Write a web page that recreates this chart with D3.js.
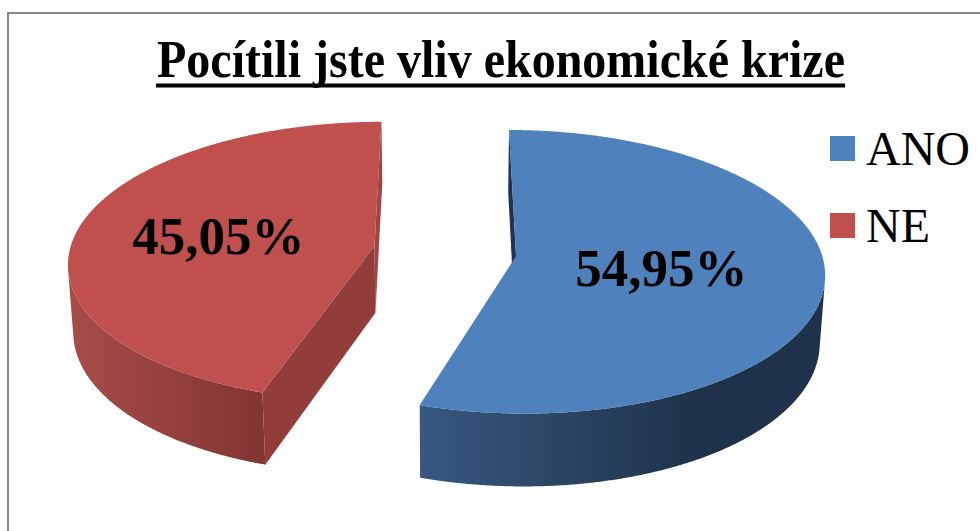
<!DOCTYPE html>
<meta charset="utf-8">
<script src="https://cdn.jsdelivr.net/npm/d3@7/dist/d3.min.js"></script>
<style>
  body { margin: 0; background: #fff; }
  svg { display: block; }
</style>
<body>
<div id="chart"></div>
<script>
  var title = "Pocítili jste vliv ekonomické krize";
  var categories = ["ANO", "NE"];
  var values = [54.95, 45.05];
  var valueLabels = ["54,95%", "45,05%"];

  var width = 980, height = 531;

  var svg = d3.select("#chart").append("svg")
      .attr("width", width)
      .attr("height", height);

  // colours, Excel 2007 style
  var color = d3.scaleOrdinal().domain(categories).range(["#4F81BD", "#C0504D"]);
  var wallLight = d3.scaleOrdinal().domain(categories).range(["#37587F", "#A84C49"]);
  var wallDark = d3.scaleOrdinal().domain(categories).range(["#1F324B", "#823533"]);
  var wallStop = d3.scaleOrdinal().domain(categories).range([0.68, 1]);
  var cutStart = d3.scaleOrdinal().domain(categories).range(["#1F3452", "#933D3B"]);
  var cutEnd = d3.scaleOrdinal().domain(categories).range(["#1F3452", "#A04542"]);

  // simple perspective camera, pie radius = 1
  var phi = 27.1 * Math.PI / 180,
      D = 8.07, f = 2461,
      cx = 445, cy = 251,
      thick = 0.25, explode = 0.235;
  var cam = [0, D * Math.sin(phi), -D * Math.cos(phi)];

  function project(p) {
    var depth = -p[1] * Math.sin(phi) + p[2] * Math.cos(phi) + D;
    var px = p[0], py = p[1] * Math.cos(phi) + p[2] * Math.sin(phi);
    return [cx + f * px / depth, cy - f * py / depth];
  }
  function facing(n, p) {
    return n[0] * (cam[0] - p[0]) + n[1] * (cam[1] - p[1]) + n[2] * (cam[2] - p[2]) > 0;
  }

  var line = d3.line();

  var data = categories.map(function(c, i) {
    return {name: c, value: values[i], label: valueLabels[i]};
  });
  var arcs = d3.pie().sort(null).value(function(d) { return d.value; })(data);

  arcs.forEach(function(a) {
    var mid = (a.startAngle + a.endAngle) / 2;
    a.off = [explode * Math.sin(mid), 0, explode * Math.cos(mid)];
  });
  // far slices first
  arcs.sort(function(a, b) { return b.off[2] - a.off[2]; });

  var defs = svg.append("defs");

  // frame
  svg.append("rect")
      .attr("x", 8).attr("y", 13)
      .attr("width", 1000).attr("height", 600)
      .attr("fill", "none")
      .attr("stroke", "#898989")
      .attr("stroke-width", 2);

  arcs.forEach(function(a, k) {
    var o = a.off, name = a.data.name;
    function rim(t, y) { return [o[0] + Math.sin(t), y, o[2] + Math.cos(t)]; }
    var apexTop = [o[0], 0, o[2]], apexBot = [o[0], -thick, o[2]];

    var g = svg.append("g");
    var n = Math.ceil((a.endAngle - a.startAngle) / 0.005);
    var ts = d3.range(n + 1).map(function(i) {
      return a.startAngle + (a.endAngle - a.startAngle) * i / n;
    });

    // outer wall, visible runs
    var runs = [], cur = null;
    ts.forEach(function(t) {
      var vis = facing([Math.sin(t), 0, Math.cos(t)], rim(t, 0));
      if (vis) { if (!cur) { cur = []; runs.push(cur); } cur.push(t); }
      else cur = null;
    });
    runs.forEach(function(run, r) {
      var pts = run.map(function(t) { return project(rim(t, 0)); })
          .concat(run.slice().reverse().map(function(t) { return project(rim(t, -thick)); }));
      var xs = d3.extent(pts, function(p) { return p[0]; });
      var id = "wall" + k + "_" + r;
      var grad = defs.append("linearGradient").attr("id", id)
          .attr("gradientUnits", "userSpaceOnUse")
          .attr("x1", xs[0]).attr("x2", xs[1]).attr("y1", 0).attr("y2", 0);
      grad.append("stop").attr("offset", 0).attr("stop-color", wallLight(name));
      grad.append("stop").attr("offset", wallStop(name)).attr("stop-color", wallDark(name));
      grad.append("stop").attr("offset", 1).attr("stop-color", wallDark(name));
      g.append("path")
          .attr("d", line(pts) + "Z")
          .attr("fill", "url(#" + id + ")");
    });

    // cut faces
    var faces = [
      {t: a.startAngle, n: [-Math.cos(a.startAngle), 0, Math.sin(a.startAngle)], fill: cutStart(name)},
      {t: a.endAngle, n: [Math.cos(a.endAngle), 0, -Math.sin(a.endAngle)], fill: cutEnd(name)}
    ];
    faces.forEach(function(fc) {
      if (!facing(fc.n, apexTop)) return;
      var pts = [apexTop, rim(fc.t, 0), rim(fc.t, -thick), apexBot].map(project);
      g.append("path")
          .attr("d", line(pts) + "Z")
          .attr("fill", fc.fill);
    });

    // top face
    var top = [project(apexTop)].concat(ts.map(function(t) { return project(rim(t, 0)); }));
    g.append("path")
        .attr("d", line(top) + "Z")
        .attr("fill", color(name));

    // value label
    var lp = project([o[0] + 0.5 * Math.sin((a.startAngle + a.endAngle) / 2), 0,
                      o[2] + 0.5 * Math.cos((a.startAngle + a.endAngle) / 2)]);
    g.append("text")
        .attr("x", lp[0] - 8)
        .attr("y", lp[1])
        .attr("dy", "0.35em")
        .attr("text-anchor", "middle")
        .style("font-family", "'Liberation Serif', 'Times New Roman', serif")
        .style("font-weight", "bold")
        .style("font-size", "53px")
        .text(a.data.label);
  });

  // title
  svg.append("text")
      .attr("x", 501)
      .attr("y", 77)
      .attr("text-anchor", "middle")
      .attr("textLength", 688)
      .attr("lengthAdjust", "spacingAndGlyphs")
      .style("font-family", "'Liberation Serif', 'Times New Roman', serif")
      .style("font-weight", "bold")
      .style("font-size", "52px")
      .text(title);
  svg.append("rect")
      .attr("x", 156).attr("y", 83.5)
      .attr("width", 689).attr("height", 4)
      .attr("fill", "#000");

  // legend
  var legend = svg.selectAll(".legend")
      .data(categories)
    .enter().append("g")
      .attr("class", "legend")
      .attr("transform", function(d, i) { return "translate(830," + (136 + i * 77) + ")"; });
  legend.append("rect")
      .attr("width", 25).attr("height", 25)
      .attr("fill", function(d) { return color(d); });
  legend.append("text")
      .attr("x", 36)
      .attr("y", 29)
      .style("font-family", "'Liberation Serif', 'Times New Roman', serif")
      .style("font-size", "48px")
      .text(function(d) { return d; });
</script>
</body>
